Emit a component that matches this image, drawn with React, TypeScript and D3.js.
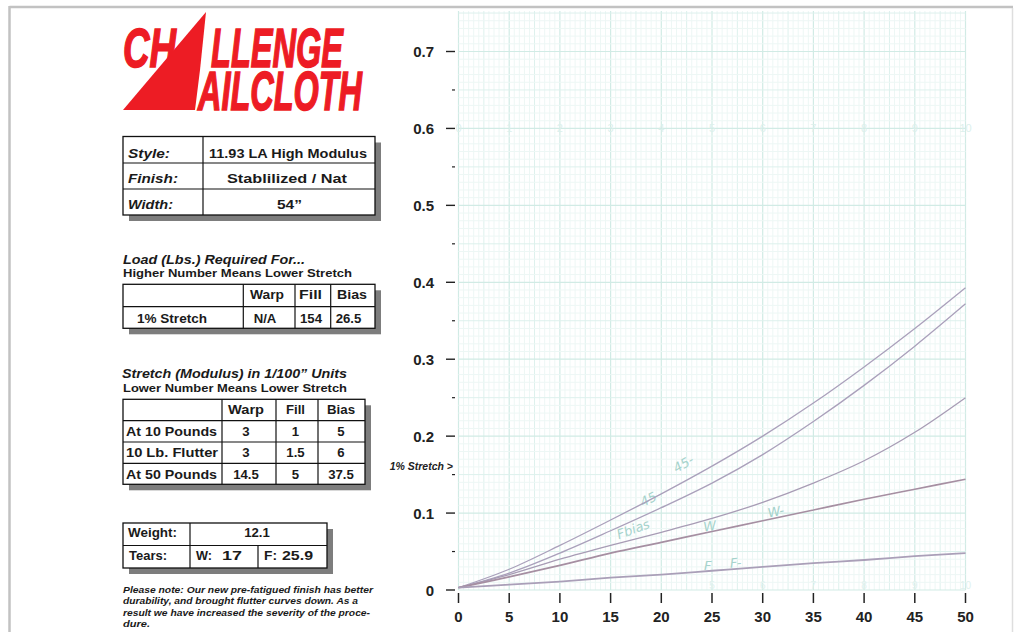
import * as d3 from 'd3'

const W = 1014
const H = 632

// pull test: load (lbs) vs stretch
const LBS = [0, 5, 10, 15, 20, 25, 30, 35, 40, 45, 50]
const BIAS_45 = [0.003, 0.027, 0.058, 0.091, 0.125, 0.161, 0.2, 0.243, 0.29, 0.34, 0.393]
const BIAS_45_FLUTTER = [0.003, 0.022, 0.048, 0.077, 0.107, 0.139, 0.176, 0.219, 0.266, 0.317, 0.372]
const FILL_BIAS = [0.003, 0.02, 0.04, 0.058, 0.075, 0.093, 0.114, 0.139, 0.168, 0.205, 0.25]
const WARP = [0.003, 0.017, 0.032, 0.048, 0.062, 0.076, 0.09, 0.104, 0.118, 0.131, 0.144]
const FILL = [0.003, 0.007, 0.011, 0.016, 0.02, 0.025, 0.03, 0.035, 0.039, 0.044, 0.048]

const Y_TICKS = [0, 0.1, 0.2, 0.3, 0.4, 0.5, 0.6, 0.7]
const Y_TICK_LABELS = ['0', '0.1', '0.2', '0.3', '0.4', '0.5', '0.6', '0.7']
const Y_MINOR = [0.05, 0.15, 0.25, 0.35, 0.45, 0.55, 0.65]
const X_TICKS = [0, 5, 10, 15, 20, 25, 30, 35, 40, 45, 50]

// pencil notes on the scan: [text, lbs, stretch, angle]
const PENCIL: Array<[string, number, number, number]> = [
  ['45', 18.2, 0.108, -27],
  ['45-', 21.5, 0.152, -30],
  ['Fbias', 15.8, 0.066, -20],
  ['W', 24.2, 0.076, -8],
  ['W-', 30.6, 0.094, -12],
  ['F', 24.2, 0.026, 0],
  ['F-', 26.8, 0.029, -4],
]

const STYLE_ROWS = [
  ['Style:', '11.93 LA High Modulus'],
  ['Finish:', 'Stablilized / Nat'],
  ['Width:', '54”'],
]
const COLS = ['Warp', 'Fill', 'Bias']
const LOAD_ROW = ['1% Stretch', 'N/A', '154', '26.5']
const STRETCH_ROWS = [
  ['At 10 Pounds', '3', '1', '5'],
  ['10 Lb. Flutter', '3', '1.5', '6'],
  ['At 50 Pounds', '14.5', '5', '37.5'],
]
const WEIGHT = '12.1'
const TEARS = ['17', '25.9']
const NOTE = [
  'Please note: Our new pre-fatigued finish has better',
  'durability, and brought flutter curves down. As a',
  'result we have increased the severity of the proce-',
  'dure.',
]

const FONT = '"Liberation Sans", Arial, Helvetica, sans-serif'
const RED = '#ed1c24'

function T({
  x,
  y,
  children,
  size = 13.2,
  w,
  anchor = 'start',
  italic = false,
}: {
  x: number
  y: number
  children: any
  size?: number
  w?: number
  anchor?: string
  italic?: boolean
}) {
  return (
    <text
      x={x}
      y={y}
      fontSize={size}
      fontWeight={700}
      fontStyle={italic ? 'italic' : 'normal'}
      textAnchor={anchor}
      textLength={w}
      lengthAdjust={w ? 'spacingAndGlyphs' : undefined}
      fill="#1a1a1a"
    >
      {children}
    </text>
  )
}

function Box({ x, y, w, h }: { x: number; y: number; w: number; h: number }) {
  return (
    <g>
      <rect x={x + 6} y={y + 6} width={w} height={h} fill="#7d7d7d" />
      <rect x={x} y={y} width={w} height={h} fill="#fff" stroke="#111" strokeWidth={1.3} />
    </g>
  )
}

function Panel() {
  const rows1 = [157.5, 183, 208.5]
  const labW1 = [42, 50, 45]
  const valX1 = [209, 227, 277]
  const valW1 = [158, 120, 25]
  const c2x = [267, 310.5, 352]
  const c2w = [34, 23, 30]
  const c3x = [246, 295.5, 341]
  const c3w = [36, 19, 28]
  const r3y = [435.5, 457, 478.5]
  return (
    <g fontFamily={FONT}>
      {/* logo */}
      <polygon points="206,12 123,110 195,110 200,70" fill={RED} />
      <g fill={RED} stroke={RED} strokeWidth={1.6} fontWeight={700} fontStyle="italic" fontSize={55}>
        <text x={123} y={67} textLength={53} lengthAdjust="spacingAndGlyphs">CH</text>
        <text x={211} y={67} textLength={132} lengthAdjust="spacingAndGlyphs">LLENGE</text>
        <text x={198} y={110} textLength={164} lengthAdjust="spacingAndGlyphs">AILCLOTH</text>
      </g>

      {/* style table */}
      <Box x={123} y={136.5} w={252} h={78.5} />
      <line x1={123} x2={375} y1={163} y2={163} stroke="#111" strokeWidth={1.2} />
      <line x1={123} x2={375} y1={189} y2={189} stroke="#111" strokeWidth={1.2} />
      <line x1={203} x2={203} y1={136.5} y2={215} stroke="#111" strokeWidth={1.2} />
      {STYLE_ROWS.map((r, i) => (
        <g key={r[0]}>
          <T x={128} y={rows1[i]} w={labW1[i]} italic>{r[0]}</T>
          <T x={valX1[i]} y={rows1[i]} w={valW1[i]}>{r[1]}</T>
        </g>
      ))}

      {/* load table */}
      <T x={123} y={264.3} size={12} w={182} italic>Load (Lbs.) Required For...</T>
      <T x={123} y={276.7} size={10.5} w={229}>Higher Number Means Lower Stretch</T>
      <Box x={123} y={284.3} w={252} h={44} />
      <line x1={123} x2={375} y1={306.7} y2={306.7} stroke="#111" strokeWidth={1.2} />
      {[243.3, 295, 330.7].map((cx) => (
        <line key={cx} x1={cx} x2={cx} y1={284.3} y2={328.3} stroke="#111" strokeWidth={1.2} />
      ))}
      {COLS.map((c, i) => (
        <T key={c} x={c2x[i] - c2w[i] / 2} y={298.5} w={c2w[i]}>{c}</T>
      ))}
      <T x={137} y={322.5} w={70}>{LOAD_ROW[0]}</T>
      {LOAD_ROW.slice(1).map((v, i) => (
        <T key={i} x={[265, 311, 348.5][i]} y={322.5} anchor="middle">{v}</T>
      ))}

      {/* stretch table */}
      <T x={122} y={378.3} size={12} w={225} italic>Stretch (Modulus) in 1/100” Units</T>
      <T x={123} y={391.7} size={10.5} w={224}>Lower Number Means Lower Stretch</T>
      <Box x={123} y={399.3} w={242} h={85} />
      {[420.7, 442, 463.3].map((ry) => (
        <line key={ry} x1={123} x2={365} y1={ry} y2={ry} stroke="#111" strokeWidth={1.2} />
      ))}
      {[222, 276, 318].map((cx) => (
        <line key={cx} x1={cx} x2={cx} y1={399.3} y2={484.3} stroke="#111" strokeWidth={1.2} />
      ))}
      {COLS.map((c, i) => (
        <T key={c} x={c3x[i] - c3w[i] / 2} y={414.3} w={c3w[i]}>{c}</T>
      ))}
      {STRETCH_ROWS.map((r, i) => (
        <g key={r[0]}>
          <T x={126} y={r3y[i]} w={i === 1 ? 92 : 91}>{r[0]}</T>
          {r.slice(1).map((v, j) => (
            <T key={j} x={c3x[j]} y={r3y[i]} anchor="middle">{v}</T>
          ))}
        </g>
      ))}

      {/* weight / tears */}
      <Box x={123} y={523} w={204} h={45} />
      <line x1={123} x2={327} y1={545.5} y2={545.5} stroke="#111" strokeWidth={1.2} />
      <line x1={190} x2={190} y1={523} y2={568} stroke="#111" strokeWidth={1.2} />
      <line x1={258} x2={258} y1={545.5} y2={568} stroke="#111" strokeWidth={1.2} />
      <T x={128} y={536.5} w={49}>Weight:</T>
      <T x={257} y={536.5} anchor="middle">{WEIGHT}</T>
      <T x={129} y={559.5} w={38}>Tears:</T>
      <T x={196} y={559.5} w={16}>W:</T>
      <T x={222} y={559.5} w={20}>{TEARS[0]}</T>
      <T x={264} y={559.5} w={13}>F:</T>
      <T x={282} y={559.5} w={31}>{TEARS[1]}</T>

      {NOTE.map((l, i) => (
        <T key={i} x={123} y={[593, 604.3, 615.8, 627][i]} size={9.6} w={[250, 235, 247, 27][i]} italic>
          {l}
        </T>
      ))}
    </g>
  )
}

function Chart() {
  const x = d3.scaleLinear().domain([0, 50]).range([458.5, 965.5])
  const y = d3.scaleLinear().domain([0, 0.7]).range([590, 51.5])
  const gridTop = 11
  const topVal = y.invert(gridTop)

  const vFine = d3.range(0, 50.001, 0.5)
  const hFine = d3.range(0, topVal, 0.01)

  const line = d3
    .line<number>()
    .x((_, i) => x(LBS[i]))
    .y((d) => y(d))
    .curve(d3.curveCatmullRom.alpha(0.5))

  const series = [
    { v: BIAS_45, c: '#aaa0bb', w: 1.3 },
    { v: BIAS_45_FLUTTER, c: '#aaa0bb', w: 1.3 },
    { v: FILL_BIAS, c: '#a89cb5', w: 1.3 },
    { v: WARP, c: '#a68fa2', w: 1.7 },
    { v: FILL, c: '#aa9fb8', w: 1.8 },
  ]

  const gridColor = (major: boolean, mid: boolean) => (major ? '#d1ebe5' : mid ? '#ddf1ed' : '#edf7f5')

  return (
    <g fontFamily={FONT}>
      {/* graph paper */}
      <g>
        {vFine.map((v, i) => (
          <line
            key={'v' + i}
            x1={x(v)}
            x2={x(v)}
            y1={gridTop}
            y2={590}
            stroke={gridColor(i % 10 === 0, i % 5 === 0)}
            strokeWidth={i % 10 === 0 ? 1.2 : 1}
          />
        ))}
        {hFine.map((v, i) => (
          <line
            key={'h' + i}
            x1={x(0)}
            x2={x(50)}
            y1={y(v)}
            y2={y(v)}
            stroke={gridColor(i % 10 === 0, i % 5 === 0)}
            strokeWidth={i % 10 === 0 ? 1.2 : 1}
          />
        ))}
        {X_TICKS.map((v, i) => (
          <text key={'p' + i} x={x(v)} y={y(0.6) + 4} fontSize={11} fill="#dcf0ec" textAnchor="middle">
            {i}
          </text>
        ))}
        {X_TICKS.slice(5).map((v, i) => (
          <text key={'q' + i} x={x(v)} y={589} fontSize={10} fill="#e0f1ee" textAnchor="middle">
            {i + 5}
          </text>
        ))}
      </g>

      {PENCIL.map(([t, lb, s, a]) => (
        <text
          key={t}
          transform={`translate(${x(lb)},${y(s)}) rotate(${a})`}
          fontSize={13}
          fontStyle="italic"
          fill="#a6d3cc"
          fontFamily='"DejaVu Sans", sans-serif'
          fontWeight={300}
        >
          {t}
        </text>
      ))}

      {series.map((s, i) => (
        <path key={i} d={line(s.v) ?? undefined} fill="none" stroke={s.c} strokeWidth={s.w} />
      ))}

      {/* y axis */}
      {Y_TICKS.map((v, i) => (
        <g key={'y' + i}>
          <line x1={446} x2={455} y1={y(v)} y2={y(v)} stroke="#222" strokeWidth={1.4} />
          <text x={434} y={y(v) + 5.5} fontSize={15} fontWeight={700} textAnchor="end" fill="#222">
            {Y_TICK_LABELS[i]}
          </text>
        </g>
      ))}
      {Y_MINOR.map((v) => (
        <line key={'m' + v} x1={452} x2={455} y1={y(v)} y2={y(v)} stroke="#222" strokeWidth={1.2} />
      ))}
      <text x={453} y={470} fontSize={10.5} fontWeight={700} fontStyle="italic" textAnchor="end" fill="#222">
        1% Stretch &gt;
      </text>

      {/* x axis */}
      {X_TICKS.map((v) => (
        <g key={'x' + v}>
          <line x1={x(v)} x2={x(v)} y1={593} y2={603} stroke="#222" strokeWidth={1.5} />
          <text x={x(v)} y={622} fontSize={15} fontWeight={700} textAnchor="middle" fill="#222">
            {v}
          </text>
        </g>
      ))}
    </g>
  )
}

export default function App() {
  return (
    <svg
      width={W}
      height={H}
      viewBox={`0 0 ${W} ${H}`}
      style={{ position: 'absolute', left: 0, top: 0, display: 'block', background: '#fff' }}
    >
      <rect width={W} height={H} fill="#fff" />
      {/* page frame */}
      <line x1={9.5} x2={1013} y1={7} y2={7} stroke="#c2c2c2" strokeWidth={2.5} />
      <line x1={9.5} x2={9.5} y1={6} y2={H} stroke="#c2c2c2" strokeWidth={2.5} />
      <line x1={1012.5} x2={1012.5} y1={8} y2={H} stroke="#dedede" strokeWidth={1.5} />
      <Panel />
      <Chart />
    </svg>
  )
}
